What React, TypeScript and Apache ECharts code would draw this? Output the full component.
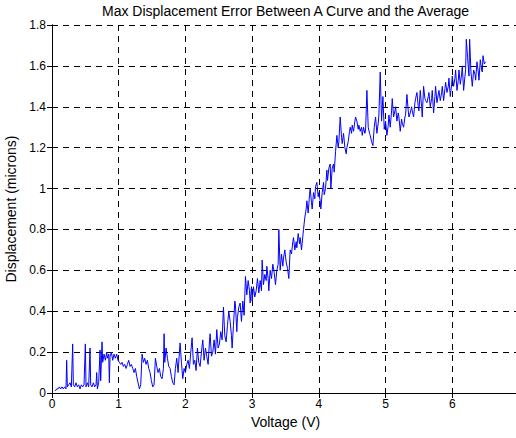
import React, { useEffect, useRef } from "react";
import * as echarts from "echarts";

const titleText = "Max Displacement Error Between A Curve and the Average";
const xName = "Voltage (V)";
const yName = "Displacement (microns)";

const volts = [
  0.05, 0.07, 0.09, 0.11, 0.13, 0.15, 0.17, 0.19, 0.21, 0.22, 0.23, 0.25, 0.27, 0.29, 0.31, 0.32, 0.34, 0.36, 0.38, 0.4,
  0.42, 0.44, 0.46, 0.48, 0.5, 0.51, 0.53, 0.55, 0.57, 0.58, 0.6, 0.62, 0.64, 0.66, 0.67, 0.68, 0.7, 0.72, 0.73, 0.75,
  0.76, 0.78, 0.8, 0.82, 0.83, 0.85, 0.86, 0.87, 0.89, 0.91, 0.93, 0.95, 0.97, 0.99, 1.01, 1.03, 1.05, 1.07, 1.09, 1.11,
  1.13, 1.15, 1.17, 1.19, 1.21, 1.23, 1.25, 1.27, 1.29, 1.31, 1.33, 1.35, 1.37, 1.39, 1.41, 1.43, 1.45, 1.47, 1.49, 1.51,
  1.53, 1.55, 1.57, 1.59, 1.61, 1.63, 1.65, 1.67, 1.68, 1.69, 1.71, 1.73, 1.75, 1.77, 1.79, 1.81, 1.83, 1.85, 1.87, 1.89,
  1.91, 1.92, 1.94, 1.96, 1.98, 2.0, 2.02, 2.04, 2.06, 2.08, 2.1, 2.12, 2.14, 2.16, 2.18, 2.2, 2.22, 2.24, 2.26, 2.28,
  2.3, 2.32, 2.34, 2.36, 2.37, 2.39, 2.41, 2.43, 2.45, 2.47, 2.49, 2.51, 2.53, 2.55, 2.57, 2.59, 2.61, 2.63, 2.65, 2.67,
  2.69, 2.7, 2.72, 2.74, 2.75, 2.77, 2.78, 2.8, 2.82, 2.84, 2.86, 2.88, 2.9, 2.92, 2.94, 2.96, 2.97, 2.99, 3.0, 3.02,
  3.04, 3.06, 3.08, 3.1, 3.12, 3.14, 3.15, 3.17, 3.19, 3.21, 3.22, 3.24, 3.25, 3.27, 3.29, 3.31, 3.33, 3.35, 3.37, 3.39,
  3.4, 3.42, 3.44, 3.46, 3.47, 3.49, 3.51, 3.53, 3.55, 3.57, 3.59, 3.61, 3.62, 3.64, 3.66, 3.67, 3.69, 3.71, 3.72, 3.74,
  3.75, 3.77, 3.79, 3.81, 3.82, 3.84, 3.86, 3.87, 3.89, 3.9, 3.92, 3.94, 3.95, 3.97, 3.99, 4.0, 4.02, 4.03, 4.05, 4.07,
  4.08, 4.1, 4.12, 4.13, 4.15, 4.17, 4.18, 4.2, 4.22, 4.23, 4.25, 4.27, 4.29, 4.3, 4.32, 4.34, 4.35, 4.37, 4.39, 4.41,
  4.42, 4.44, 4.46, 4.47, 4.49, 4.5, 4.52, 4.54, 4.55, 4.57, 4.59, 4.6, 4.62, 4.64, 4.65, 4.67, 4.69, 4.7, 4.72, 4.74,
  4.76, 4.77, 4.79, 4.81, 4.83, 4.85, 4.87, 4.89, 4.9, 4.92, 4.94, 4.96, 4.98, 5.0, 5.02, 5.04, 5.05, 5.07, 5.09, 5.1,
  5.12, 5.14, 5.15, 5.17, 5.19, 5.2, 5.22, 5.24, 5.25, 5.27, 5.29, 5.3, 5.32, 5.34, 5.35, 5.37, 5.39, 5.4, 5.42, 5.44,
  5.45, 5.47, 5.49, 5.5, 5.52, 5.54, 5.55, 5.57, 5.59, 5.6, 5.62, 5.64, 5.65, 5.67, 5.69, 5.7, 5.72, 5.74, 5.75, 5.77,
  5.79, 5.8, 5.82, 5.84, 5.85, 5.87, 5.89, 5.9, 5.92, 5.94, 5.95, 5.97, 5.99, 6.0, 6.02, 6.04, 6.05, 6.07, 6.09, 6.1,
  6.12, 6.14, 6.15, 6.17, 6.19, 6.2, 6.21, 6.23, 6.25, 6.26, 6.28, 6.3, 6.32, 6.34, 6.35, 6.37, 6.39, 6.4, 6.42, 6.44,
  6.45, 6.46, 6.48, 6.5,
];

const displacement = [
  0.01, 0.02, 0.02, 0.03, 0.02, 0.03, 0.02, 0.03, 0.02, 0.16, 0.03, 0.04, 0.05, 0.03, 0.24, 0.04, 0.03, 0.05, 0.03, 0.04,
  0.02, 0.04, 0.03, 0.04, 0.24, 0.03, 0.05, 0.03, 0.22, 0.04, 0.03, 0.05, 0.03, 0.04, 0.1, 0.02, 0.05, 0.21, 0.06, 0.25,
  0.15, 0.19, 0.16, 0.2, 0.17, 0.19, 0.05, 0.18, 0.2, 0.16, 0.19, 0.17, 0.19, 0.16, 0.15, 0.14, 0.15, 0.13, 0.14, 0.12,
  0.14, 0.16, 0.13, 0.14, 0.12, 0.1, 0.12, 0.08, 0.05, 0.02, 0.04, 0.19, 0.15, 0.17, 0.14, 0.16, 0.12, 0.1, 0.06, 0.03,
  0.04, 0.17, 0.13, 0.1, 0.12, 0.08, 0.07, 0.12, 0.29, 0.15, 0.22, 0.17, 0.13, 0.12, 0.08, 0.05, 0.04, 0.12, 0.17, 0.1,
  0.2, 0.245, 0.15, 0.07, 0.12, 0.1, 0.14, 0.16, 0.12, 0.2, 0.27, 0.14, 0.16, 0.11, 0.22, 0.15, 0.13, 0.2, 0.26, 0.16,
  0.22, 0.18, 0.14, 0.25, 0.29, 0.18, 0.2, 0.26, 0.19, 0.31, 0.22, 0.24, 0.3, 0.26, 0.42, 0.28, 0.25, 0.33, 0.4, 0.35,
  0.28, 0.22, 0.33, 0.45, 0.43, 0.3, 0.37, 0.42, 0.44, 0.35, 0.45, 0.38, 0.57, 0.48, 0.55, 0.5, 0.44, 0.52, 0.45, 0.52,
  0.47, 0.5, 0.56, 0.49, 0.55, 0.5, 0.65, 0.53, 0.58, 0.55, 0.62, 0.56, 0.5, 0.6, 0.56, 0.63, 0.59, 0.53, 0.6, 0.63,
  0.8, 0.6, 0.68, 0.62, 0.66, 0.7, 0.64, 0.61, 0.56, 0.7, 0.68, 0.74, 0.76, 0.7, 0.74, 0.71, 0.78, 0.73, 0.76, 0.7,
  0.7, 0.8, 0.86, 0.9, 0.94, 0.88, 0.97, 1.0, 0.93, 0.9, 0.98, 0.95, 1.01, 1.03, 0.96, 0.98, 0.94, 0.9, 0.98, 1.03,
  0.97, 1.0, 1.09, 1.04, 1.1, 1.12, 1.0, 1.1, 1.12, 1.08, 1.18, 1.26, 1.2, 1.23, 1.35, 1.25, 1.22, 1.27, 1.2, 1.17,
  1.2, 1.23, 1.28, 1.3, 1.27, 1.31, 1.28, 1.33, 1.35, 1.33, 1.29, 1.31, 1.28, 1.3, 1.26, 1.3, 1.27, 1.28, 1.48, 1.3,
  1.27, 1.26, 1.23, 1.21, 1.3, 1.35, 1.27, 1.32, 1.36, 1.57, 1.33, 1.45, 1.29, 1.33, 1.26, 1.31, 1.36, 1.3, 1.38, 1.44,
  1.35, 1.38, 1.4, 1.33, 1.37, 1.35, 1.28, 1.34, 1.32, 1.3, 1.35, 1.36, 1.46, 1.38, 1.35, 1.37, 1.4, 1.38, 1.35, 1.42,
  1.44, 1.47, 1.4, 1.38, 1.48, 1.4, 1.35, 1.5, 1.44, 1.43, 1.42, 1.45, 1.47, 1.4, 1.44, 1.48, 1.37, 1.45, 1.5, 1.42,
  1.46, 1.48, 1.43, 1.47, 1.5, 1.43, 1.49, 1.52, 1.47, 1.5, 1.54, 1.45, 1.51, 1.55, 1.5, 1.54, 1.58, 1.48, 1.53, 1.58,
  1.51, 1.56, 1.6, 1.48, 1.55, 1.58, 1.73, 1.64, 1.55, 1.73, 1.57, 1.5, 1.58, 1.56, 1.53, 1.62, 1.57, 1.53, 1.63, 1.58,
  1.57, 1.65, 1.61, 1.62,
];

const xTicks = [0, 1, 2, 3, 4, 5, 6, 7];
const yTickStep = 0.2;

const FONT = "'Liberation Sans', Arial, sans-serif";

export default function App() {
  const ref = useRef<HTMLDivElement>(null);
  useEffect(() => {
    document.body.style.overflow = "hidden";
    const chart = echarts.init(ref.current!, null, { renderer: "svg" });
    const seriesData = volts.map((v, i) => [v, displacement[i]]);
    const axisLine = { show: true, lineStyle: { color: "#000", width: 1 } };
    const split = { show: true, lineStyle: { color: "#000", width: 1, type: [6, 5] as any } };
    const tick = { show: true, inside: true, length: 5, lineStyle: { color: "#000" } };
    chart.setOption({
      animation: false,
      backgroundColor: "#fff",
      grid: { left: 52, right: 21, top: 25, bottom: 45, containLabel: false, outerBoundsMode: "none" },
      xAxis: [
        {
          type: "value",
          min: xTicks[0],
          max: xTicks[xTicks.length - 1],
          interval: 1,
          position: "bottom",
          name: xName,
          nameLocation: "middle",
          nameGap: 22,
          nameTextStyle: { fontFamily: FONT, fontSize: 14, color: "#000" },
          axisLine,
          axisTick: tick,
          axisLabel: { fontFamily: FONT, fontSize: 12, color: "#000", margin: 5 },
          splitLine: split,
        },
        {
          type: "value",
          min: xTicks[0],
          max: xTicks[xTicks.length - 1],
          interval: 1,
          position: "top",
          name: titleText,
          nameLocation: "middle",
          nameGap: 7,
          nameTextStyle: { fontFamily: FONT, fontSize: 14, color: "#000" },
          axisLine,
          axisTick: tick,
          axisLabel: { show: false },
          splitLine: { show: false },
        },
      ],
      yAxis: [
        {
          type: "value",
          min: 0,
          max: 1.8,
          interval: yTickStep,
          position: "left",
          name: yName,
          nameLocation: "middle",
          nameGap: 31,
          nameRotate: 90,
          nameTextStyle: { fontFamily: FONT, fontSize: 14, color: "#000" },
          axisLine,
          axisTick: tick,
          axisLabel: { fontFamily: FONT, fontSize: 12, color: "#000", margin: 6 },
          splitLine: split,
        },
        {
          type: "value",
          min: 0,
          max: 1.8,
          interval: yTickStep,
          position: "right",
          axisLine,
          axisTick: tick,
          axisLabel: { show: false },
          splitLine: { show: false },
        },
      ],
      series: [
        {
          type: "line",
          data: seriesData,
          xAxisIndex: 0,
          yAxisIndex: 0,
          symbol: "none",
          lineStyle: { color: "#0000ff", width: 1 },
        },
      ],
    });
    return () => chart.dispose();
  }, []);
  return (
    <div
      ref={ref}
      style={{ position: "fixed", left: 0, top: 0, width: 540, height: 438, background: "#fff" }}
    />
  );
}
